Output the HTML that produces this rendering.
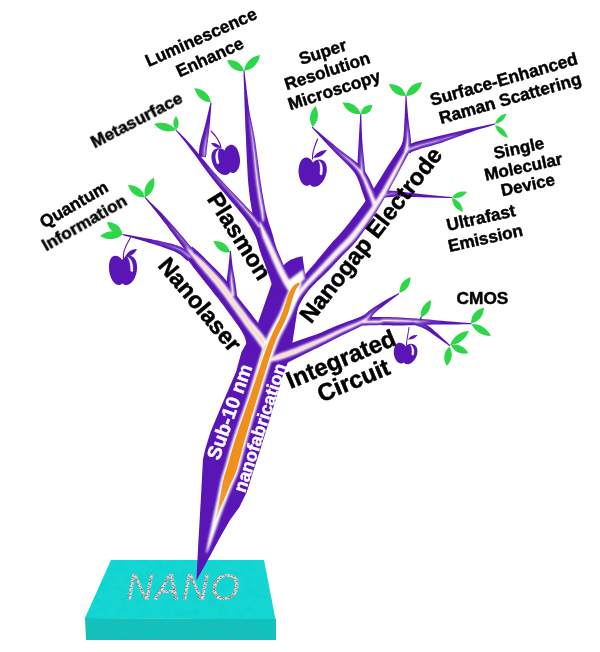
<!DOCTYPE html>
<html><head><meta charset="utf-8"><title>Nano tree</title>
<style>html,body{margin:0;padding:0;background:#fff}svg{display:block}</style></head>
<body>
<svg width="600" height="652" viewBox="0 0 600 652">
<defs>
<filter id="b1" x="-20%" y="-20%" width="140%" height="140%"><feGaussianBlur stdDeviation="1.0"/></filter>
<filter id="b2" x="-20%" y="-20%" width="140%" height="140%"><feGaussianBlur stdDeviation="0.5"/></filter>
<filter id="b3" x="-20%" y="-20%" width="140%" height="140%"><feGaussianBlur stdDeviation="0.75"/></filter>
<filter id="noise" x="0" y="0" width="100%" height="100%"><feTurbulence type="fractalNoise" baseFrequency="0.11" numOctaves="3" seed="7"/><feColorMatrix type="matrix" values="0 0 0 0 0  0 0 0 0 0.62  0 0 0 0 0.62  1.6 0 0 0 -0.62"/><feComposite in2="SourceGraphic" operator="in"/></filter>
<linearGradient id="og" gradientUnits="userSpaceOnUse" x1="230" y1="476" x2="215" y2="521"><stop offset="0" stop-color="#f0901e"/><stop offset="0.6" stop-color="#f29a3a"/><stop offset="1" stop-color="#fbe3cf"/></linearGradient>
<pattern id="spk" width="8" height="8" patternUnits="userSpaceOnUse"><rect x="0" y="0" width="1" height="1" fill="#c6c8c8"/><rect x="0" y="1" width="1" height="1" fill="#d6d8d8"/><rect x="0" y="2" width="1" height="1" fill="#9c9e9e"/><rect x="0" y="3" width="1" height="1" fill="#a8aaaa"/><rect x="0" y="4" width="1" height="1" fill="#787a7a"/><rect x="0" y="5" width="1" height="1" fill="#b4b6b6"/><rect x="0" y="6" width="1" height="1" fill="#9c9e9e"/><rect x="0" y="7" width="1" height="1" fill="#9c9e9e"/><rect x="1" y="0" width="1" height="1" fill="#8a8c8c"/><rect x="1" y="1" width="1" height="1" fill="#a8aaaa"/><rect x="1" y="2" width="1" height="1" fill="#d6d8d8"/><rect x="1" y="3" width="1" height="1" fill="#8a8c8c"/><rect x="1" y="4" width="1" height="1" fill="#c6c8c8"/><rect x="1" y="5" width="1" height="1" fill="#e4e6e6"/><rect x="1" y="6" width="1" height="1" fill="#d6d8d8"/><rect x="1" y="7" width="1" height="1" fill="#b4b6b6"/><rect x="2" y="0" width="1" height="1" fill="#9c9e9e"/><rect x="2" y="1" width="1" height="1" fill="#d6d8d8"/><rect x="2" y="2" width="1" height="1" fill="#c6c8c8"/><rect x="2" y="3" width="1" height="1" fill="#8a8c8c"/><rect x="2" y="4" width="1" height="1" fill="#d6d8d8"/><rect x="2" y="5" width="1" height="1" fill="#d6d8d8"/><rect x="2" y="6" width="1" height="1" fill="#c6c8c8"/><rect x="2" y="7" width="1" height="1" fill="#b4b6b6"/><rect x="3" y="0" width="1" height="1" fill="#d6d8d8"/><rect x="3" y="1" width="1" height="1" fill="#d6d8d8"/><rect x="3" y="2" width="1" height="1" fill="#e4e6e6"/><rect x="3" y="3" width="1" height="1" fill="#9c9e9e"/><rect x="3" y="4" width="1" height="1" fill="#e4e6e6"/><rect x="3" y="5" width="1" height="1" fill="#a8aaaa"/><rect x="3" y="6" width="1" height="1" fill="#c6c8c8"/><rect x="3" y="7" width="1" height="1" fill="#b4b6b6"/><rect x="4" y="0" width="1" height="1" fill="#c6c8c8"/><rect x="4" y="1" width="1" height="1" fill="#787a7a"/><rect x="4" y="2" width="1" height="1" fill="#d6d8d8"/><rect x="4" y="3" width="1" height="1" fill="#9c9e9e"/><rect x="4" y="4" width="1" height="1" fill="#d6d8d8"/><rect x="4" y="5" width="1" height="1" fill="#8a8c8c"/><rect x="4" y="6" width="1" height="1" fill="#d6d8d8"/><rect x="4" y="7" width="1" height="1" fill="#d6d8d8"/><rect x="5" y="0" width="1" height="1" fill="#c6c8c8"/><rect x="5" y="1" width="1" height="1" fill="#a8aaaa"/><rect x="5" y="2" width="1" height="1" fill="#a8aaaa"/><rect x="5" y="3" width="1" height="1" fill="#d6d8d8"/><rect x="5" y="4" width="1" height="1" fill="#a8aaaa"/><rect x="5" y="5" width="1" height="1" fill="#787a7a"/><rect x="5" y="6" width="1" height="1" fill="#b4b6b6"/><rect x="5" y="7" width="1" height="1" fill="#c6c8c8"/><rect x="6" y="0" width="1" height="1" fill="#d6d8d8"/><rect x="6" y="1" width="1" height="1" fill="#d6d8d8"/><rect x="6" y="2" width="1" height="1" fill="#8a8c8c"/><rect x="6" y="3" width="1" height="1" fill="#9c9e9e"/><rect x="6" y="4" width="1" height="1" fill="#8a8c8c"/><rect x="6" y="5" width="1" height="1" fill="#787a7a"/><rect x="6" y="6" width="1" height="1" fill="#d6d8d8"/><rect x="6" y="7" width="1" height="1" fill="#787a7a"/><rect x="7" y="0" width="1" height="1" fill="#e4e6e6"/><rect x="7" y="1" width="1" height="1" fill="#b4b6b6"/><rect x="7" y="2" width="1" height="1" fill="#c6c8c8"/><rect x="7" y="3" width="1" height="1" fill="#9c9e9e"/><rect x="7" y="4" width="1" height="1" fill="#a8aaaa"/><rect x="7" y="5" width="1" height="1" fill="#c6c8c8"/><rect x="7" y="6" width="1" height="1" fill="#787a7a"/><rect x="7" y="7" width="1" height="1" fill="#d6d8d8"/></pattern>
</defs>
<rect width="600" height="652" fill="#fff"/>
<polygon points="111,560 264,560 275.5,619.5 85,618" fill="#16d6d2"/>
<polygon points="85,618 276,619 276,640 86,640" fill="#17bfb9"/>
<polygon points="111,560 264,560 275.5,619.5 276,640 86,640 85,618" fill="#fff" filter="url(#noise)" opacity="0.55"/>
<text x="126" y="600" font-family="'Liberation Sans',sans-serif" font-style="italic" font-size="37.3" letter-spacing="1.8" fill="url(#spk)">NANO</text>
<polygon points="196.4,580.5 198.2,545.0 200.8,500.0 203.0,459.0 205.3,449.0 210.5,432.0 223.5,401.0 236.0,372.0 241.5,352.0 258.0,323.0 271.3,284.7 283.0,266.0 293.0,260.5 304.8,273.5 299.0,300.0 292.5,342.0 288.0,362.0 283.0,375.0 278.0,392.0 269.5,420.0 259.5,452.0 253.0,472.0 246.8,492.0 239.5,507.0 230.0,520.0 220.0,537.5 210.0,556.0" fill="#5915b6" />
<path d="M282,267 C287,260.5 295,257.3 302.5,256.2 L305,274 L290,286 Z" fill="#5915b6"/>
<polygon points="243.5,71.0 243.6,75.4 243.8,81.5 244.1,88.7 244.3,96.3 244.5,103.7 244.8,110.2 245.0,115.7 245.2,120.5 245.3,125.2 245.5,129.8 245.8,134.8 246.0,140.5 246.3,147.0 246.6,154.3 247.0,162.0 247.4,169.7 247.8,177.1 248.3,183.7 248.9,189.6 249.5,195.1 250.2,200.2 251.0,204.9 251.7,209.3 252.4,213.3 253.1,217.1 253.9,220.5 254.6,223.6 255.3,226.2 255.8,228.3 256.2,229.8 269.8,226.2 269.3,224.5 268.7,222.5 268.0,220.0 267.2,217.2 266.4,214.1 265.6,210.7 264.9,206.9 264.1,202.7 263.3,198.1 262.4,193.2 261.6,188.0 260.7,182.3 259.8,175.9 258.9,168.7 257.9,161.1 256.9,153.4 255.9,146.1 255.0,139.5 254.0,133.9 253.0,128.9 252.0,124.3 251.1,119.8 250.1,115.1 249.2,109.8 248.3,103.4 247.4,96.1 246.5,88.5 245.7,81.4 245.0,75.3 244.5,71.0" fill="#5915b6"/>
<polygon points="175.6,130.3 177.0,132.0 178.7,134.1 180.9,136.7 183.3,139.7 186.0,143.1 188.9,146.9 192.2,151.3 195.9,156.3 199.8,161.8 203.9,167.4 208.0,172.9 211.9,178.1 215.8,182.9 219.7,187.7 223.6,192.3 227.4,196.7 230.9,200.9 234.2,204.8 237.1,208.3 239.7,211.5 242.1,214.4 244.2,217.1 246.2,219.8 248.1,222.6 250.0,225.7 251.9,229.2 253.7,232.7 255.4,236.0 256.8,238.9 257.8,241.0 268.2,235.0 266.9,233.1 265.2,230.5 263.1,227.3 260.8,223.8 258.3,220.3 255.9,217.0 253.4,214.1 251.0,211.4 248.4,208.7 245.8,206.0 243.0,203.1 239.8,199.8 236.4,196.1 232.5,192.1 228.5,187.9 224.4,183.5 220.2,179.1 216.1,174.5 211.9,169.7 207.5,164.6 203.1,159.3 198.7,154.1 194.7,149.3 191.1,145.1 187.9,141.5 184.9,138.3 182.1,135.5 179.8,133.1 177.8,131.2 176.4,129.7" fill="#5915b6"/>
<polygon points="210.5,102.4 209.9,104.9 209.2,108.2 208.2,112.2 207.2,116.5 206.2,120.8 205.3,124.6 204.3,128.2 203.3,131.9 202.3,135.6 201.3,139.1 200.5,142.5 199.8,145.4 199.4,148.1 199.1,150.5 199.0,152.6 199.0,154.3 199.0,155.7 199.0,156.8 206.0,157.2 206.1,156.1 206.3,154.7 206.5,153.1 206.7,151.2 206.9,149.0 207.2,146.6 207.5,143.7 208.0,140.4 208.4,136.8 208.9,133.0 209.3,129.2 209.7,125.4 210.1,121.4 210.4,117.0 210.8,112.6 211.1,108.5 211.3,105.1 211.5,102.6" fill="#5915b6"/>
<polygon points="253.9,226.3 253.9,226.9 254.0,227.8 254.1,228.8 254.2,230.0 254.4,231.2 254.6,232.5 255.0,233.9 255.4,235.5 255.9,237.1 256.5,238.9 257.0,240.6 257.5,242.3 257.9,243.6 258.2,244.9 258.6,246.3 259.1,248.1 259.7,250.2 260.6,252.8 261.7,256.0 263.1,259.6 264.6,263.5 266.1,267.5 267.5,271.4 268.8,275.1 270.0,278.7 271.2,282.5 272.4,286.4 273.5,289.9 274.4,292.9 275.0,295.1 293.0,288.9 292.2,286.8 291.0,283.9 289.7,280.4 288.2,276.6 286.7,272.7 285.2,268.9 283.7,265.2 282.0,261.2 280.3,257.2 278.7,253.4 277.3,250.0 276.2,247.2 275.5,245.1 275.0,243.5 274.6,242.2 274.3,240.9 273.9,239.4 273.5,237.7 273.0,235.9 272.5,234.1 271.9,232.4 271.4,230.6 270.9,229.0 270.4,227.5 269.8,226.2 269.2,225.0 268.5,223.9 268.0,223.0 267.5,222.3 267.1,221.7" fill="#5915b6"/>
<polygon points="144.6,197.8 146.2,199.7 148.3,202.3 150.8,205.3 153.5,208.7 156.2,212.0 158.7,215.2 161.1,218.2 163.5,221.4 166.0,224.6 168.4,227.8 170.7,230.9 172.9,233.7 174.9,236.4 176.8,239.0 178.7,241.6 180.4,243.9 182.0,246.1 183.5,248.0 184.8,249.8 186.0,251.3 187.1,252.6 188.0,253.7 188.8,254.6 189.4,255.3 194.6,250.7 194.0,250.0 193.2,249.2 192.3,248.1 191.1,246.9 189.9,245.5 188.5,244.0 187.0,242.1 185.3,240.1 183.5,237.8 181.5,235.4 179.4,232.9 177.1,230.3 174.8,227.6 172.2,224.7 169.5,221.7 166.8,218.7 164.0,215.7 161.3,212.8 158.5,209.9 155.4,206.9 152.3,203.9 149.5,201.2 147.1,198.8 145.4,197.2" fill="#5915b6"/>
<polygon points="122.4,235.0 125.4,235.9 129.7,237.1 134.7,238.6 140.0,240.1 145.1,241.6 149.5,242.9 153.3,244.1 156.9,245.3 160.4,246.3 163.5,247.4 166.4,248.4 169.1,249.4 171.4,250.2 173.3,251.0 175.0,251.7 176.4,252.4 177.8,253.2 179.2,254.0 180.7,255.1 182.2,256.3 183.8,257.7 185.2,259.0 186.5,260.2 187.5,261.1 192.5,254.9 191.6,254.2 190.2,253.1 188.6,251.9 186.7,250.5 184.8,249.2 182.8,248.0 181.0,247.1 179.2,246.3 177.4,245.6 175.5,245.0 173.4,244.3 170.9,243.6 168.1,242.9 165.0,242.2 161.7,241.4 158.2,240.6 154.4,239.9 150.5,239.1 145.9,238.2 140.7,237.2 135.3,236.2 130.1,235.3 125.7,234.6 122.6,234.0" fill="#5915b6"/>
<polygon points="183.8,254.4 184.4,255.2 185.1,256.2 186.0,257.5 187.0,258.9 188.0,260.2 189.0,261.5 189.8,262.6 190.5,263.6 191.3,264.6 192.2,265.8 193.4,267.4 195.1,269.5 197.4,272.5 200.2,276.0 203.3,280.0 206.5,284.0 209.5,287.8 212.1,291.1 214.2,293.8 216.0,296.0 217.8,298.1 219.6,300.5 221.7,303.2 224.2,306.6 227.4,310.9 231.0,315.8 234.7,320.9 238.3,326.1 241.4,330.8 243.6,334.7 244.9,337.8 245.8,340.8 246.3,343.6 246.7,346.3 247.0,348.9 247.4,351.1 268.6,344.9 267.9,343.4 267.1,341.1 265.9,337.9 264.3,334.1 262.2,329.8 259.6,325.3 256.4,320.7 252.6,315.7 248.5,310.5 244.4,305.5 240.7,300.8 237.6,296.8 235.3,293.5 233.4,290.7 231.8,288.1 230.2,285.6 228.3,282.9 225.9,279.9 222.9,276.4 219.4,272.8 215.7,269.0 212.1,265.5 208.9,262.3 206.3,259.7 204.4,257.7 203.0,256.3 201.9,255.2 201.0,254.3 200.1,253.5 199.0,252.5 197.8,251.3 196.4,250.2 195.1,249.1 193.9,248.0 192.9,247.2 192.2,246.6" fill="#5915b6"/>
<polygon points="230.0,251.0 229.8,252.6 229.6,254.8 229.4,257.5 229.1,260.4 228.8,263.3 228.5,266.0 228.2,268.7 227.8,271.4 227.5,274.1 227.1,276.9 226.9,279.6 226.8,282.3 226.8,285.0 227.0,287.8 227.3,290.5 227.6,293.0 227.9,295.0 228.0,296.5 237.0,295.5 236.8,294.0 236.6,291.9 236.3,289.5 235.9,286.9 235.6,284.2 235.2,281.7 234.8,279.2 234.4,276.6 233.9,274.0 233.4,271.3 232.9,268.6 232.5,266.0 232.2,263.3 231.9,260.4 231.6,257.5 231.3,254.9 231.1,252.6 231.0,251.0" fill="#5915b6"/>
<polygon points="311.7,127.4 314.0,129.9 317.3,133.5 321.1,137.7 325.3,142.2 329.4,146.7 333.3,150.8 337.1,154.7 341.1,158.5 345.0,162.3 348.7,166.0 351.9,169.5 354.5,172.8 356.4,176.0 357.9,179.2 359.2,182.5 360.3,185.8 361.3,189.1 362.5,192.3 363.6,195.4 364.7,198.4 365.7,201.4 366.5,204.1 367.3,206.4 367.9,208.2 380.1,203.8 379.5,202.2 378.6,199.9 377.6,197.1 376.4,194.0 375.0,190.8 373.5,187.7 372.1,184.7 370.6,181.6 368.9,178.1 366.9,174.5 364.5,170.8 361.5,167.2 357.9,163.6 353.9,160.3 349.6,156.9 345.2,153.7 340.9,150.4 336.7,147.2 332.4,143.6 327.7,139.7 323.0,135.7 318.7,132.0 315.0,128.9 312.3,126.6" fill="#5915b6"/>
<polygon points="360.3,114.0 360.1,116.8 359.9,120.8 359.6,125.4 359.3,130.4 359.0,135.4 358.8,140.0 358.5,144.4 358.2,149.0 358.0,153.6 357.7,157.9 357.6,161.8 357.5,165.2 357.6,167.9 357.7,170.2 357.9,172.0 358.2,173.5 358.4,174.6 358.5,175.4 365.5,174.6 365.4,173.6 365.3,172.5 365.1,171.1 364.9,169.5 364.7,167.4 364.5,164.8 364.2,161.6 363.8,157.7 363.4,153.4 362.9,148.9 362.6,144.4 362.2,140.0 362.0,135.4 361.8,130.5 361.6,125.5 361.5,120.8 361.4,116.9 361.3,114.0" fill="#5915b6"/>
<polygon points="405.5,96.0 405.4,98.7 405.3,102.4 405.1,106.8 404.9,111.4 404.7,116.0 404.5,120.1 404.3,123.7 404.1,127.4 403.9,130.9 403.7,134.2 403.4,137.2 403.0,139.8 402.5,142.1 401.8,144.3 401.0,146.2 400.3,148.0 399.6,149.6 399.1,150.8 410.9,153.2 410.9,152.0 411.0,150.4 411.1,148.3 411.1,145.8 411.1,143.1 411.0,140.2 410.7,137.2 410.3,134.0 409.9,130.6 409.4,127.2 408.9,123.6 408.5,119.9 408.1,115.9 407.7,111.4 407.3,106.7 407.0,102.4 406.7,98.6 406.5,96.0" fill="#5915b6"/>
<polygon points="402.7,143.5 401.1,146.0 398.8,149.4 396.2,153.4 393.2,157.9 390.2,162.6 387.1,167.3 384.0,172.2 380.8,177.4 377.5,182.8 374.0,188.3 370.6,193.6 367.1,198.8 363.4,203.9 359.5,209.2 355.6,214.5 351.7,219.5 348.1,224.2 344.8,228.2 342.1,231.6 339.7,234.3 337.5,236.7 335.3,239.1 332.9,241.6 330.4,244.5 327.8,247.5 325.2,250.7 322.6,253.8 320.0,256.9 317.6,259.8 315.5,262.4 313.5,264.7 311.8,266.7 310.1,268.6 308.5,270.5 306.8,272.4 305.0,274.3 303.3,276.2 301.5,278.0 299.5,280.0 297.6,282.1 295.6,284.5 293.7,287.1 292.0,289.9 290.3,292.8 288.8,295.9 287.3,299.1 286.0,302.5 284.8,305.9 283.9,309.5 283.1,313.2 282.4,316.9 281.9,320.5 281.4,323.9 281.0,327.3 280.7,330.7 280.5,334.2 280.3,337.5 280.2,340.5 280.1,343.0 280.0,344.8 292.0,345.2 292.1,343.4 292.1,340.9 292.2,338.0 292.4,334.9 292.6,331.7 293.0,328.7 293.4,325.7 294.0,322.4 294.6,319.1 295.4,315.9 296.2,312.9 297.2,310.1 298.3,307.4 299.5,304.7 300.9,302.1 302.4,299.5 303.9,297.1 305.3,294.9 306.7,292.9 308.1,291.1 309.6,289.3 311.3,287.5 313.1,285.6 315.0,283.7 316.7,281.8 318.5,280.2 320.3,278.6 322.2,276.8 324.3,274.8 326.5,272.6 329.0,270.0 331.7,267.2 334.4,264.3 337.2,261.3 340.0,258.3 342.6,255.5 345.0,253.1 347.3,250.8 349.7,248.4 352.3,245.8 355.1,242.6 358.2,238.8 361.5,234.3 365.0,229.2 368.7,223.8 372.4,218.1 376.0,212.4 379.5,206.8 382.8,201.2 386.1,195.5 389.3,189.7 392.3,184.1 395.2,178.7 397.9,173.7 400.5,168.8 403.2,163.8 405.7,159.1 408.0,154.8 409.9,151.2 411.3,148.5" fill="#5915b6"/>
<polygon points="494.9,123.5 492.2,124.1 488.5,124.8 484.1,125.7 479.3,126.7 474.4,127.8 469.5,128.8 464.6,130.0 459.3,131.2 453.9,132.5 448.6,133.8 443.5,135.0 439.0,136.1 435.0,137.1 431.4,137.9 427.9,138.7 424.7,139.5 421.7,140.2 418.9,141.0 416.2,141.8 413.6,142.6 411.4,143.4 409.4,144.2 407.8,144.8 406.6,145.2 409.4,152.8 410.6,152.3 412.2,151.7 414.1,151.0 416.3,150.2 418.6,149.4 421.1,148.6 423.8,147.8 426.7,147.0 429.8,146.2 433.2,145.2 437.0,144.1 441.0,142.9 445.4,141.3 450.3,139.5 455.5,137.6 460.7,135.7 465.7,133.8 470.5,132.2 475.1,130.6 479.9,129.1 484.6,127.7 488.9,126.4 492.5,125.3 495.1,124.5" fill="#5915b6"/>
<polygon points="452.0,197.0 449.1,196.7 445.0,196.4 440.1,195.9 434.9,195.5 429.8,195.0 425.1,194.5 420.8,194.0 416.5,193.5 412.2,192.9 408.1,192.4 404.0,191.9 400.1,191.5 396.2,191.1 392.2,190.8 388.4,190.6 384.9,190.3 382.1,190.1 380.0,190.0 380.0,198.0 382.2,197.8 385.1,197.5 388.5,197.2 392.2,196.9 396.1,196.6 399.9,196.5 403.7,196.5 407.7,196.7 411.9,196.9 416.2,197.1 420.5,197.3 424.9,197.5 429.6,197.6 434.8,197.7 440.0,197.8 444.9,197.9 449.0,198.0 452.0,198.0" fill="#5915b6"/>
<polygon points="398.7,293.1 397.1,293.9 394.9,295.1 392.2,296.5 389.4,298.0 386.6,299.6 384.0,301.1 381.6,302.5 379.2,304.0 376.8,305.5 374.5,307.0 372.3,308.5 370.2,309.9 368.4,311.3 366.9,312.7 365.7,313.7 364.7,314.5 363.4,315.3 361.4,316.3 358.5,317.6 354.8,319.0 350.6,320.5 346.2,322.1 341.8,323.7 337.8,325.3 334.2,326.8 330.9,328.2 327.7,329.6 324.6,331.0 321.2,332.4 317.5,333.9 313.2,335.4 308.5,337.1 303.5,338.8 298.5,340.5 293.6,342.2 289.1,343.9 284.9,345.6 280.7,347.4 276.7,349.1 273.1,350.7 270.2,352.0 268.0,352.9 276.0,369.1 278.1,367.9 280.9,366.4 284.3,364.6 288.0,362.6 291.8,360.5 295.7,358.5 299.7,356.5 304.2,354.2 308.9,351.9 313.7,349.6 318.3,347.4 322.5,345.3 326.2,343.5 329.6,341.7 332.8,340.1 335.8,338.6 338.9,337.0 342.2,335.3 346.0,333.5 350.1,331.6 354.4,329.6 358.5,327.6 362.4,325.6 365.6,323.7 368.1,321.8 369.9,319.9 371.1,318.2 371.9,316.7 372.6,315.5 373.8,314.1 375.5,312.5 377.4,310.8 379.5,309.1 381.6,307.4 383.8,305.7 386.0,303.9 388.3,302.2 390.8,300.2 393.4,298.3 395.8,296.5 397.8,295.0 399.3,293.9" fill="#5915b6"/>
<polygon points="471.5,323.2 469.2,323.0 466.1,322.8 462.3,322.5 458.3,322.2 454.1,321.8 450.1,321.5 446.1,321.2 442.0,320.8 437.8,320.4 433.6,320.0 429.3,319.6 425.1,319.3 420.8,318.9 416.5,318.6 412.2,318.3 408.0,318.0 403.9,317.7 400.1,317.5 396.5,317.3 393.0,317.2 389.7,317.0 386.4,316.9 383.2,316.9 380.0,316.9 376.6,316.9 373.1,317.0 369.6,317.1 366.4,317.3 363.8,317.4 361.9,317.5 362.1,325.5 364.1,325.5 366.7,325.4 369.9,325.3 373.3,325.2 376.7,325.2 380.0,325.1 383.1,325.2 386.2,325.3 389.4,325.3 392.8,325.4 396.2,325.5 399.9,325.5 403.8,325.4 407.9,325.3 412.1,325.2 416.4,325.0 420.7,324.9 424.9,324.7 429.1,324.7 433.4,324.6 437.6,324.6 441.8,324.6 446.0,324.5 449.9,324.5 454.0,324.4 458.2,324.4 462.3,324.3 466.0,324.3 469.2,324.2 471.5,324.2" fill="#5915b6"/>
<polygon points="420.5,316.9 420.4,317.1 420.3,317.4 420.2,317.8 420.0,318.1 419.8,318.5 419.7,318.9 419.6,319.2 419.4,319.6 419.3,320.0 419.2,320.4 419.1,320.6 419.0,320.9 422.0,321.1 422.0,320.9 421.9,320.6 421.9,320.2 421.8,319.9 421.7,319.5 421.7,319.1 421.6,318.8 421.6,318.4 421.6,318.0 421.5,317.6 421.5,317.3 421.5,317.1" fill="#5915b6"/>
<polygon points="450.3,345.4 449.1,344.3 447.4,342.6 445.4,340.7 443.2,338.7 441.0,336.7 438.9,334.8 437.0,333.1 435.1,331.4 433.2,329.7 431.2,328.0 429.2,326.5 427.1,325.0 424.9,323.8 422.5,322.6 420.2,321.6 418.0,320.7 416.2,320.0 415.0,319.4 413.0,324.6 414.4,325.0 416.2,325.6 418.3,326.3 420.6,327.1 422.8,328.0 424.9,329.0 426.8,330.0 428.8,331.3 430.8,332.7 432.9,334.2 435.0,335.7 437.1,337.2 439.3,338.7 441.7,340.5 444.1,342.2 446.4,343.8 448.3,345.2 449.7,346.2" fill="#5915b6"/>
<g filter="url(#b1)">
<polygon points="244.2,71.0 244.6,75.3 245.2,81.4 245.9,88.6 246.6,96.2 247.3,103.5 248.0,109.9 248.6,115.3 249.3,120.1 249.9,124.6 250.6,129.2 251.3,134.2 251.9,139.9 252.6,146.5 253.4,153.8 254.1,161.4 254.8,169.1 255.6,176.3 256.3,182.8 257.1,188.6 257.9,194.1 258.8,199.3 259.6,203.9 260.3,208.1 260.9,211.6 261.3,214.5 261.7,216.6 261.9,218.3 262.1,219.6 262.3,220.7 262.4,221.6 263.8,221.5 263.8,220.6 263.9,219.5 264.0,218.2 264.0,216.4 263.8,214.2 263.5,211.3 263.0,207.6 262.2,203.5 261.4,198.8 260.5,193.7 259.5,188.3 258.7,182.5 257.8,176.1 256.9,168.9 256.0,161.2 255.1,153.6 254.2,146.3 253.3,139.7 252.5,134.0 251.6,129.1 250.7,124.5 249.8,120.0 249.0,115.2 248.1,109.9 247.3,103.5 246.6,96.2 245.9,88.6 245.2,81.4 244.6,75.3 244.2,71.0" fill="#fdf6fb"/>
<polygon points="176.1,129.9 177.6,131.4 179.5,133.4 181.8,135.9 184.4,138.7 187.3,142.0 190.4,145.6 193.9,149.9 197.9,154.8 202.1,160.0 206.3,165.5 210.6,170.8 214.6,175.8 218.6,180.4 222.7,185.0 226.7,189.5 230.6,193.8 234.3,197.9 237.7,201.7 240.7,205.2 243.6,208.5 246.3,211.6 248.7,214.4 250.8,216.9 252.7,219.2 254.3,221.2 255.6,223.0 256.7,224.4 257.5,225.7 258.2,226.7 258.7,227.5 259.9,226.7 259.4,225.9 258.9,224.8 258.1,223.5 257.1,221.9 255.8,220.1 254.2,218.0 252.3,215.7 250.0,213.2 247.5,210.5 244.8,207.5 241.8,204.3 238.6,200.9 235.2,197.2 231.4,193.1 227.4,188.9 223.3,184.5 219.1,180.0 215.0,175.4 210.9,170.6 206.5,165.4 202.1,160.0 197.9,154.8 193.9,149.9 190.4,145.6 187.3,142.0 184.4,138.7 181.8,135.9 179.5,133.4 177.6,131.4 176.1,129.9" fill="#fdf6fb"/>
<polygon points="211.2,102.5 210.9,105.0 210.5,108.4 210.0,112.5 209.5,116.9 208.9,121.2 208.3,125.1 207.6,128.9 206.9,132.6 206.2,136.4 205.4,140.0 204.8,143.3 204.3,146.1 204.0,148.6 203.7,150.9 203.6,152.9 203.5,154.6 203.4,156.0 203.3,157.0 204.5,157.1 204.6,156.1 204.7,154.6 204.9,153.0 205.1,151.0 205.3,148.8 205.6,146.3 206.0,143.4 206.5,140.1 207.0,136.5 207.5,132.8 208.0,128.9 208.5,125.2 208.9,121.2 209.5,116.9 210.0,112.5 210.5,108.4 210.9,105.0 211.2,102.5" fill="#fdf6fb"/>
<polygon points="259.3,222.0 259.5,223.5 259.9,225.7 260.4,228.2 260.9,231.0 261.6,233.8 262.3,236.4 263.1,238.8 264.1,241.1 265.1,243.5 266.2,246.0 267.4,248.6 268.6,251.4 270.0,254.5 271.4,257.9 272.9,261.4 274.5,264.9 276.0,268.3 277.5,271.5 279.0,274.5 280.6,277.6 282.1,280.5 283.5,283.2 284.8,285.6 286.0,287.5 287.0,289.0 287.9,290.1 288.7,290.9 289.3,291.4 289.9,291.9 290.4,292.3 294.1,289.4 293.8,288.8 293.5,288.2 293.2,287.5 292.9,286.7 292.4,285.7 291.7,284.2 290.7,282.3 289.3,280.0 287.9,277.3 286.3,274.5 284.8,271.6 283.2,268.7 281.7,265.6 280.2,262.3 278.5,258.8 277.0,255.4 275.4,252.1 274.0,249.0 272.7,246.2 271.5,243.6 270.3,241.1 269.3,238.8 268.2,236.6 267.1,234.4 265.9,232.1 264.6,229.7 263.2,227.2 262.0,225.0 260.9,223.1 260.1,221.7" fill="#fdf6fb"/>
<polygon points="145.1,197.4 146.8,199.2 149.1,201.6 151.8,204.4 154.7,207.5 157.6,210.7 160.4,213.7 163.0,216.6 165.6,219.7 168.2,222.8 170.7,225.9 173.1,228.9 175.4,231.7 177.5,234.4 179.5,236.9 181.4,239.4 183.2,241.7 184.9,243.8 186.3,245.7 187.7,247.4 188.9,248.8 190.0,250.1 190.9,251.2 191.7,252.0 192.3,252.7 193.2,252.0 192.5,251.3 191.8,250.4 190.8,249.4 189.7,248.2 188.4,246.7 187.1,245.1 185.6,243.3 183.9,241.2 182.0,238.9 180.1,236.5 178.0,233.9 175.8,231.3 173.5,228.6 171.0,225.7 168.3,222.7 165.6,219.6 163.0,216.6 160.4,213.7 157.6,210.7 154.7,207.5 151.8,204.4 149.1,201.6 146.8,199.2 145.1,197.4" fill="#fdf6fb"/>
<polygon points="122.5,234.4 125.6,235.1 129.9,236.1 135.0,237.2 140.4,238.4 145.6,239.6 150.1,240.7 153.9,241.7 157.6,242.7 161.1,243.7 164.3,244.6 167.3,245.5 170.0,246.4 172.4,247.2 174.4,247.9 176.2,248.6 177.9,249.3 179.4,250.0 181.0,250.9 182.8,252.1 184.5,253.4 186.2,254.8 187.7,256.1 189.0,257.2 190.0,258.0 190.8,257.0 189.9,256.2 188.5,255.1 186.9,253.9 185.2,252.5 183.3,251.2 181.5,250.1 179.9,249.2 178.2,248.5 176.5,247.8 174.7,247.1 172.7,246.5 170.2,245.7 167.5,244.9 164.5,244.1 161.2,243.3 157.7,242.5 154.0,241.6 150.1,240.7 145.6,239.6 140.4,238.4 135.0,237.2 129.9,236.1 125.6,235.1 122.5,234.4" fill="#fdf6fb"/>
<polygon points="185.2,246.9 185.5,247.3 186.0,248.0 186.5,248.7 187.1,249.5 187.7,250.4 188.3,251.2 188.9,251.9 189.3,252.6 189.8,253.4 190.4,254.1 191.0,255.1 191.9,256.2 192.8,257.4 193.7,258.6 194.8,260.0 196.0,261.6 197.5,263.5 199.4,265.8 201.9,268.7 204.8,272.2 208.1,276.0 211.4,279.9 214.5,283.6 217.2,287.0 219.5,289.8 221.4,292.4 223.3,294.8 225.1,297.2 227.0,299.9 229.2,302.9 231.7,306.4 234.4,310.2 237.2,314.3 240.1,318.3 242.7,322.1 245.1,325.4 247.3,328.4 249.3,331.1 251.2,333.5 252.9,335.7 254.4,337.7 255.8,339.6 257.1,341.4 258.3,343.0 259.3,344.5 260.3,345.8 261.1,347.0 261.9,348.0 262.6,348.8 263.2,349.5 263.8,350.2 264.4,350.9 264.8,351.5 265.2,352.0 268.4,351.4 268.5,350.9 268.8,350.2 269.0,349.2 269.2,347.8 269.1,346.3 268.7,344.6 268.0,343.1 267.3,341.5 266.4,339.9 265.4,338.2 264.2,336.4 262.7,334.5 261.1,332.4 259.4,330.4 257.5,328.3 255.5,326.0 253.4,323.6 251.2,320.9 248.7,317.7 245.9,314.0 243.0,310.1 240.1,306.2 237.3,302.4 234.7,298.9 232.6,295.9 230.8,293.2 229.2,290.6 227.4,288.0 225.4,285.2 223.0,282.2 220.1,278.9 216.7,275.2 213.2,271.4 209.7,267.8 206.5,264.5 203.8,261.8 201.6,259.7 199.7,258.0 198.2,256.7 196.8,255.6 195.6,254.6 194.4,253.7 193.3,252.9 192.4,252.2 191.6,251.6 190.9,251.1 190.2,250.6 189.5,250.1 188.7,249.5 187.9,248.8 187.1,248.1 186.4,247.5 185.8,247.0 185.4,246.7" fill="#fdf6fb"/>
<polygon points="230.6,251.0 230.6,252.6 230.6,254.9 230.6,257.5 230.7,260.4 230.7,263.3 230.8,266.0 230.8,268.6 230.7,271.3 230.6,274.1 230.6,276.8 230.6,279.5 230.6,282.0 230.8,284.7 231.0,287.4 231.3,290.1 231.6,292.5 231.9,294.6 232.0,296.1 234.4,295.8 234.2,294.3 234.0,292.2 233.7,289.8 233.4,287.1 233.0,284.4 232.7,281.9 232.4,279.3 232.1,276.7 231.7,274.0 231.4,271.3 231.1,268.6 230.8,266.0 230.7,263.3 230.7,260.4 230.6,257.5 230.6,254.9 230.6,252.6 230.6,251.0" fill="#fdf6fb"/>
<polygon points="312.1,126.9 314.6,129.3 318.1,132.6 322.2,136.5 326.7,140.7 331.1,144.9 335.1,148.9 339.0,152.5 343.1,156.2 347.2,159.7 351.1,163.3 354.7,166.8 357.7,170.3 360.0,173.7 361.9,177.2 363.4,180.6 364.7,184.0 365.9,187.2 367.2,190.4 368.4,193.5 369.6,196.6 370.7,199.6 371.6,202.4 372.4,204.7 373.0,206.4 377.0,204.9 376.3,203.3 375.5,201.0 374.5,198.2 373.3,195.2 372.0,192.0 370.6,188.9 369.2,185.9 367.8,182.7 366.3,179.3 364.4,175.8 362.2,172.3 359.5,168.8 356.1,165.4 352.3,162.0 348.1,158.6 343.8,155.3 339.5,151.9 335.4,148.5 331.2,144.8 326.7,140.7 322.2,136.5 318.1,132.6 314.6,129.3 312.1,126.9" fill="#fdf6fb"/>
<polygon points="360.9,114.0 360.9,116.8 360.8,120.8 360.8,125.4 360.8,130.4 360.7,135.4 360.8,140.0 360.8,144.4 360.8,149.0 360.8,153.5 360.8,157.8 360.8,161.7 360.9,165.0 361.0,167.7 361.1,169.8 361.4,171.6 361.6,173.0 361.7,174.1 361.9,175.0 363.3,174.8 363.2,173.9 363.0,172.8 362.9,171.4 362.7,169.7 362.5,167.6 362.3,164.9 362.0,161.7 361.7,157.8 361.4,153.5 361.1,149.0 360.9,144.4 360.8,140.0 360.7,135.4 360.8,130.4 360.8,125.4 360.8,120.8 360.9,116.8 360.9,114.0" fill="#fdf6fb"/>
<polygon points="406.1,96.0 406.2,98.7 406.3,102.4 406.4,106.7 406.5,111.4 406.7,115.9 406.8,120.0 406.8,123.7 406.9,127.3 406.9,130.8 406.9,134.1 406.9,137.2 406.7,140.0 406.4,142.6 405.9,145.0 405.4,147.2 404.9,149.1 404.4,150.7 404.1,151.9 407.8,152.5 407.9,151.3 408.1,149.7 408.3,147.7 408.5,145.3 408.6,142.8 408.6,140.1 408.4,137.2 408.2,134.0 407.8,130.7 407.5,127.2 407.1,123.6 406.8,120.0 406.7,115.9 406.5,111.4 406.4,106.7 406.3,102.4 406.2,98.7 406.1,96.0" fill="#fdf6fb"/>
<polygon points="407.3,146.9 405.8,149.4 403.8,152.9 401.5,157.0 398.8,161.5 396.0,166.3 393.2,171.1 390.4,176.0 387.3,181.3 384.1,186.9 380.8,192.5 377.4,198.0 374.0,203.3 370.3,208.7 366.4,214.1 362.4,219.5 358.5,224.6 354.7,229.4 351.3,233.5 348.4,237.0 345.7,239.8 343.3,242.2 340.9,244.5 338.5,246.9 336.0,249.5 333.3,252.3 330.6,255.3 327.9,258.2 325.2,261.1 322.6,264.0 320.1,266.6 317.8,269.1 315.5,271.5 313.2,273.8 311.1,276.0 309.1,278.2 307.2,280.3 305.5,282.2 303.8,284.1 302.3,285.9 300.9,287.6 299.5,289.5 298.2,291.4 297.0,293.5 295.8,295.7 294.7,297.9 293.7,300.2 292.7,302.5 291.7,304.8 290.7,307.2 289.7,309.7 288.8,312.3 287.9,314.8 287.0,317.4 286.1,320.0 285.1,322.8 284.0,325.9 282.9,329.0 281.8,331.9 281.0,334.4 280.3,336.1 280.3,336.1 281.1,334.4 282.0,332.0 283.2,329.2 284.5,326.1 285.7,323.1 286.9,320.4 288.1,317.8 289.2,315.3 290.3,312.9 291.4,310.4 292.6,308.1 293.8,305.8 295.0,303.7 296.3,301.6 297.7,299.5 299.0,297.6 300.3,295.7 301.7,293.9 303.1,292.1 304.4,290.4 305.8,288.8 307.3,287.1 308.9,285.3 310.7,283.4 312.6,281.4 314.6,279.4 316.7,277.3 319.0,275.0 321.4,272.7 323.8,270.2 326.4,267.6 329.1,264.9 331.9,262.0 334.7,259.2 337.5,256.3 340.2,253.6 342.7,251.1 345.1,248.9 347.5,246.6 350.1,244.1 353.0,241.1 356.0,237.4 359.4,233.1 363.1,228.2 367.0,222.8 370.9,217.3 374.7,211.6 378.2,206.1 381.6,200.6 384.9,194.9 388.1,189.1 391.2,183.5 394.1,178.1 396.7,173.0 399.3,168.1 401.7,163.1 404.0,158.3 406.0,154.0 407.7,150.4 409.0,147.8" fill="#fdf6fb"/>
<polygon points="495.0,124.1 492.4,124.8 488.7,125.7 484.4,126.8 479.7,128.1 474.8,129.4 470.1,130.8 465.3,132.2 460.1,133.7 454.7,135.2 449.5,136.8 444.5,138.2 440.0,139.5 436.0,140.6 432.3,141.5 428.9,142.4 425.7,143.2 422.7,143.9 420.0,144.7 417.4,145.5 414.9,146.3 412.7,147.1 410.8,147.8 409.2,148.4 408.0,148.9 408.5,150.3 409.7,149.9 411.3,149.3 413.2,148.6 415.4,147.8 417.8,147.0 420.4,146.1 423.1,145.3 426.0,144.6 429.2,143.7 432.6,142.8 436.3,141.8 440.3,140.6 444.8,139.1 449.7,137.5 454.9,135.7 460.1,133.9 465.3,132.2 470.1,130.8 474.8,129.4 479.7,128.1 484.4,126.8 488.7,125.7 492.4,124.8 495.0,124.1" fill="#fdf6fb"/>
<polygon points="452.0,197.4 449.0,197.2 444.9,197.0 440.1,196.7 434.9,196.4 429.7,196.1 425.0,195.8 420.7,195.4 416.4,195.0 412.1,194.6 407.9,194.2 403.9,193.8 400.0,193.4 396.2,193.2 392.2,193.0 388.4,194.0 385.0,194.0 382.1,194.0 380.0,194.0 380.0,195.3 382.1,195.2 385.0,195.0 388.5,194.8 392.3,193.7 396.1,193.7 400.0,193.8 403.9,194.0 407.9,194.2 412.1,194.6 416.4,195.0 420.7,195.4 425.0,195.8 429.7,196.1 434.9,196.4 440.1,196.7 444.9,197.0 449.0,197.2 452.0,197.4" fill="#fdf6fb"/>
<polygon points="399.0,293.6 397.5,294.6 395.4,295.9 392.9,297.5 390.2,299.3 387.6,301.1 385.2,302.7 382.9,304.3 380.6,305.9 378.3,307.5 376.1,309.1 374.0,310.6 372.0,312.0 370.5,313.4 369.3,314.6 368.2,315.8 367.0,317.0 365.5,318.2 363.2,319.5 360.1,321.0 356.4,322.7 352.2,324.3 347.8,326.1 343.5,327.7 339.6,329.4 336.1,330.9 332.8,332.4 329.6,333.9 326.4,335.4 323.1,336.9 319.5,338.4 315.5,340.1 311.2,341.8 306.7,343.6 302.3,345.3 298.1,346.9 294.3,348.4 291.0,349.6 287.8,350.7 284.8,351.7 282.1,352.6 279.6,353.4 277.4,354.3 275.5,355.2 273.9,356.1 272.6,357.0 271.5,357.8 270.5,358.4 269.8,358.9 270.8,361.4 271.6,361.3 272.8,361.2 274.1,361.0 275.7,360.8 277.4,360.4 279.4,359.9 281.6,359.3 284.1,358.5 286.8,357.6 289.8,356.5 293.1,355.3 296.5,353.9 300.3,352.3 304.4,350.4 308.8,348.5 313.2,346.5 317.4,344.5 321.3,342.6 324.9,340.9 328.2,339.3 331.4,337.7 334.5,336.1 337.7,334.5 341.1,332.8 344.9,331.0 349.1,329.2 353.4,327.2 357.5,325.3 361.3,323.4 364.5,321.6 366.8,319.9 368.4,318.3 369.5,316.8 370.3,315.4 371.2,314.1 372.6,312.6 374.3,311.1 376.3,309.4 378.4,307.7 380.6,306.0 382.9,304.3 385.2,302.7 387.6,301.1 390.2,299.3 392.9,297.5 395.4,295.9 397.5,294.6 399.0,293.6" fill="#fdf6fb"/>
<polygon points="471.5,323.6 469.2,323.5 466.1,323.4 462.3,323.3 458.2,323.1 454.0,322.9 450.0,322.8 446.0,322.6 441.9,322.4 437.7,322.1 433.5,321.8 429.2,321.4 425.0,321.1 420.8,320.9 416.5,320.6 412.2,320.4 408.0,320.1 403.9,319.9 400.0,319.7 396.4,319.6 393.0,319.4 389.6,319.3 386.4,319.2 382.9,319.2 379.8,320.5 376.7,320.5 373.2,320.6 369.7,320.7 366.6,320.8 363.9,320.9 362.0,321.0 362.1,323.3 364.0,323.2 366.7,323.1 369.8,323.0 373.2,323.0 376.7,322.9 380.2,322.9 383.4,321.6 386.3,321.6 389.5,321.7 392.9,321.8 396.3,321.9 400.0,322.0 403.9,322.0 407.9,322.0 412.2,322.0 416.5,322.0 420.8,322.0 425.0,322.0 429.2,322.0 433.5,322.1 437.7,322.2 441.9,322.4 446.0,322.6 450.0,322.8 454.0,322.9 458.2,323.1 462.3,323.3 466.1,323.4 469.2,323.5 471.5,323.6" fill="#fdf6fb"/>
<polygon points="421.1,317.0 421.1,317.2 421.0,317.5 421.0,317.9 420.9,318.3 420.9,318.7 420.9,319.0 420.8,319.4 420.8,319.8 420.8,320.1 420.8,320.5 420.8,320.8 420.7,321.0 420.7,321.0 420.8,320.8 420.8,320.5 420.8,320.1 420.8,319.8 420.8,319.4 420.9,319.0 420.9,318.7 420.9,318.3 421.0,317.9 421.0,317.5 421.1,317.2 421.1,317.0" fill="#fdf6fb"/>
<polygon points="450.1,345.7 448.8,344.6 447.0,343.1 444.8,341.3 442.6,339.4 440.3,337.5 438.1,335.8 436.2,334.2 434.2,332.6 432.2,331.0 430.2,329.4 428.2,327.9 426.2,326.6 424.1,325.4 421.8,324.3 419.5,323.3 417.4,322.5 415.6,321.8 414.3,321.3 414.0,321.9 415.3,322.4 417.2,323.0 419.3,323.8 421.6,324.7 424.0,325.7 426.1,326.8 428.2,328.0 430.2,329.4 432.2,331.0 434.2,332.6 436.2,334.2 438.1,335.8 440.3,337.5 442.6,339.4 444.8,341.3 447.0,343.1 448.8,344.6 450.1,345.7" fill="#fdf6fb"/>
</g>
<g filter="url(#b3)">
<polygon points="244.2,71.0 244.6,75.3 245.2,81.4 245.9,88.6 246.6,96.2 247.3,103.5 248.1,109.9 248.8,115.2 249.5,120.0 250.2,124.6 251.0,129.2 251.7,134.1 252.5,139.8 253.3,146.4 254.0,153.7 254.8,161.4 255.6,169.0 256.4,176.2 257.2,182.7 258.0,188.5 258.9,194.0 259.7,199.1 260.6,203.8 261.3,207.9 261.9,211.5 262.3,214.4 262.5,216.6 262.7,218.3 262.8,219.6 262.9,220.6 263.0,221.6 263.3,221.5 263.2,220.6 263.2,219.5 263.2,218.2 263.1,216.5 262.9,214.3 262.5,211.4 262.0,207.8 261.2,203.6 260.4,199.0 259.5,193.9 258.6,188.4 257.8,182.6 257.0,176.2 256.1,168.9 255.3,161.3 254.5,153.7 253.6,146.3 252.8,139.8 252.0,134.1 251.2,129.1 250.3,124.5 249.6,120.0 248.8,115.2 248.1,109.9 247.3,103.5 246.6,96.2 245.9,88.6 245.2,81.4 244.6,75.3 244.2,71.0" fill="#fcf0e0"/>
<polygon points="176.1,129.9 177.6,131.4 179.5,133.4 181.8,135.9 184.4,138.7 187.3,142.0 190.4,145.6 193.9,149.9 197.9,154.8 202.1,160.0 206.4,165.4 210.7,170.7 214.8,175.6 218.9,180.2 222.9,184.8 227.0,189.3 230.9,193.6 234.6,197.6 238.0,201.4 241.1,204.9 244.0,208.1 246.7,211.2 249.2,214.0 251.4,216.5 253.3,218.8 254.9,220.8 256.2,222.6 257.2,224.1 258.0,225.4 258.6,226.4 259.2,227.2 259.5,227.0 259.0,226.2 258.4,225.2 257.6,223.9 256.6,222.3 255.3,220.5 253.7,218.4 251.8,216.1 249.5,213.6 247.1,210.9 244.3,207.9 241.4,204.7 238.2,201.2 234.8,197.5 231.1,193.4 227.1,189.2 223.0,184.7 218.9,180.2 214.8,175.6 210.7,170.7 206.4,165.4 202.1,160.0 197.9,154.8 193.9,149.9 190.4,145.6 187.3,142.0 184.4,138.7 181.8,135.9 179.5,133.4 177.6,131.4 176.1,129.9" fill="#fcf0e0"/>
<polygon points="211.2,102.5 210.9,105.0 210.5,108.4 210.0,112.5 209.5,116.9 208.9,121.2 208.4,125.2 207.8,128.9 207.2,132.7 206.5,136.5 205.9,140.0 205.3,143.3 204.8,146.2 204.5,148.7 204.3,150.9 204.1,152.9 204.0,154.6 203.9,156.0 203.8,157.1 204.0,157.1 204.1,156.0 204.2,154.6 204.4,152.9 204.6,151.0 204.8,148.7 205.1,146.3 205.5,143.4 206.1,140.1 206.6,136.5 207.2,132.7 207.8,128.9 208.4,125.2 208.9,121.2 209.5,116.9 210.0,112.5 210.5,108.4 210.9,105.0 211.2,102.5" fill="#fbe9dc"/>
<polygon points="259.6,221.8 260.0,223.4 260.6,225.5 261.2,227.9 262.0,230.6 262.8,233.3 263.6,235.8 264.5,238.2 265.5,240.5 266.5,242.9 267.7,245.3 268.8,247.9 270.1,250.7 271.5,253.8 272.9,257.2 274.5,260.7 276.0,264.2 277.6,267.6 279.1,270.7 280.6,273.7 282.1,276.7 283.6,279.6 285.1,282.3 286.4,284.7 287.5,286.6 288.5,288.1 289.3,289.2 289.9,289.9 290.5,290.5 291.0,291.0 291.4,291.5 293.0,290.2 292.7,289.7 292.3,289.1 292.0,288.5 291.5,287.7 290.9,286.6 290.1,285.1 289.1,283.2 287.8,280.8 286.3,278.2 284.8,275.4 283.2,272.4 281.7,269.4 280.2,266.4 278.6,263.0 277.0,259.5 275.4,256.1 273.9,252.7 272.5,249.7 271.2,246.8 270.0,244.2 268.9,241.8 267.8,239.5 266.8,237.2 265.8,235.0 264.7,232.6 263.5,230.1 262.4,227.5 261.3,225.2 260.4,223.2 259.8,221.8" fill="#fcf0e0"/>
<polygon points="145.1,197.4 146.8,199.2 149.1,201.6 151.8,204.4 154.7,207.5 157.6,210.7 160.4,213.7 163.0,216.6 165.6,219.7 168.2,222.7 170.8,225.8 173.3,228.8 175.6,231.5 177.7,234.2 179.8,236.7 181.7,239.2 183.5,241.5 185.2,243.6 186.7,245.5 188.0,247.1 189.3,248.5 190.4,249.8 191.3,250.8 192.1,251.7 192.7,252.4 192.8,252.3 192.2,251.6 191.4,250.8 190.5,249.7 189.4,248.5 188.1,247.0 186.7,245.4 185.2,243.5 183.6,241.4 181.8,239.1 179.8,236.7 177.8,234.1 175.6,231.5 173.3,228.8 170.8,225.8 168.2,222.7 165.6,219.7 163.0,216.6 160.4,213.7 157.6,210.7 154.7,207.5 151.8,204.4 149.1,201.6 146.8,199.2 145.1,197.4" fill="#fbe9dc"/>
<polygon points="122.5,234.4 125.6,235.1 129.9,236.1 135.0,237.2 140.4,238.4 145.6,239.6 150.1,240.7 154.0,241.6 157.7,242.6 161.1,243.5 164.4,244.4 167.4,245.2 170.1,246.1 172.5,246.8 174.6,247.5 176.4,248.2 178.0,248.9 179.6,249.7 181.2,250.6 183.0,251.7 184.8,253.0 186.5,254.4 188.1,255.7 189.4,256.8 190.3,257.6 190.5,257.4 189.5,256.6 188.2,255.5 186.6,254.2 184.9,252.9 183.1,251.5 181.3,250.4 179.7,249.6 178.1,248.8 176.4,248.1 174.6,247.4 172.5,246.8 170.2,246.0 167.4,245.2 164.4,244.4 161.1,243.5 157.7,242.6 154.0,241.6 150.1,240.7 145.6,239.6 140.4,238.4 135.0,237.2 129.9,236.1 125.6,235.1 122.5,234.4" fill="#fbe9dc"/>
<polygon points="185.3,246.8 185.7,247.2 186.2,247.7 186.8,248.4 187.5,249.2 188.1,250.0 188.8,250.8 189.3,251.5 189.9,252.1 190.4,252.8 191.0,253.5 191.8,254.4 192.6,255.4 193.6,256.5 194.6,257.7 195.8,259.0 197.1,260.5 198.7,262.4 200.7,264.7 203.2,267.5 206.2,271.0 209.5,274.7 212.9,278.6 216.0,282.3 218.8,285.7 221.1,288.5 223.1,291.1 224.9,293.6 226.7,296.1 228.6,298.8 230.8,301.8 233.3,305.3 236.0,309.1 238.9,313.1 241.7,317.1 244.4,320.8 246.8,324.2 249.0,327.0 251.0,329.7 252.9,332.0 254.6,334.2 256.2,336.3 257.7,338.2 259.0,340.0 260.2,341.7 261.3,343.2 262.2,344.6 263.0,345.9 263.7,347.0 264.4,348.1 264.9,349.1 265.3,349.9 265.7,350.7 265.9,351.3 266.2,351.9 267.4,351.6 267.4,351.1 267.5,350.4 267.5,349.5 267.5,348.3 267.2,347.0 266.8,345.6 266.1,344.1 265.4,342.7 264.5,341.2 263.4,339.5 262.2,337.8 260.8,335.9 259.3,333.9 257.6,331.8 255.8,329.7 253.8,327.4 251.7,324.9 249.5,322.1 247.0,318.9 244.3,315.2 241.4,311.3 238.5,307.3 235.7,303.5 233.2,300.0 231.1,297.1 229.2,294.4 227.5,291.8 225.7,289.2 223.7,286.5 221.4,283.5 218.5,280.2 215.2,276.5 211.7,272.7 208.3,269.0 205.2,265.7 202.5,263.0 200.4,260.8 198.6,259.1 197.2,257.7 195.9,256.5 194.7,255.5 193.6,254.5 192.6,253.5 191.7,252.8 191.0,252.2 190.4,251.6 189.7,251.1 189.1,250.5 188.3,249.8 187.6,249.1 186.8,248.4 186.2,247.7 185.7,247.2 185.3,246.8" fill="#f9dfc8"/>
<polygon points="230.6,251.0 230.6,252.6 230.6,254.9 230.6,257.5 230.7,260.4 230.7,263.3 230.8,266.0 230.9,268.6 231.0,271.3 231.1,274.1 231.1,276.8 231.2,279.4 231.3,282.0 231.5,284.6 231.8,287.3 232.1,290.0 232.4,292.4 232.6,294.5 232.8,296.0 233.6,295.9 233.5,294.4 233.2,292.3 232.9,289.9 232.6,287.2 232.3,284.5 232.0,281.9 231.8,279.4 231.5,276.7 231.3,274.0 231.0,271.3 230.9,268.6 230.8,266.0 230.7,263.3 230.7,260.4 230.6,257.5 230.6,254.9 230.6,252.6 230.6,251.0" fill="#fbe9dc"/>
<polygon points="312.1,126.9 314.6,129.3 318.1,132.6 322.2,136.5 326.7,140.7 331.1,144.9 335.3,148.7 339.3,152.2 343.4,155.8 347.6,159.3 351.6,162.8 355.2,166.3 358.3,169.7 360.8,173.2 362.8,176.7 364.4,180.1 365.8,183.5 367.1,186.8 368.4,189.8 369.7,192.9 370.9,196.1 372.0,199.1 373.0,201.9 373.8,204.2 374.4,205.9 375.6,205.4 375.0,203.8 374.1,201.5 373.1,198.7 372.0,195.7 370.7,192.5 369.4,189.4 368.1,186.4 366.7,183.1 365.2,179.8 363.5,176.3 361.4,172.8 358.8,169.4 355.6,165.9 351.8,162.5 347.8,159.1 343.5,155.7 339.3,152.2 335.3,148.7 331.1,144.9 326.7,140.7 322.2,136.5 318.1,132.6 314.6,129.3 312.1,126.9" fill="#fbe9dc"/>
<polygon points="360.9,114.0 360.9,116.8 360.8,120.8 360.8,125.4 360.8,130.4 360.7,135.4 360.8,140.0 360.9,144.4 361.0,149.0 361.1,153.5 361.2,157.8 361.3,161.7 361.4,165.0 361.5,167.6 361.7,169.8 361.9,171.5 362.1,172.9 362.3,174.0 362.4,175.0 362.7,174.9 362.6,174.0 362.5,172.9 362.3,171.5 362.1,169.7 361.9,167.6 361.7,165.0 361.5,161.7 361.3,157.8 361.1,153.5 361.0,149.0 360.9,144.4 360.8,140.0 360.7,135.4 360.8,130.4 360.8,125.4 360.8,120.8 360.9,116.8 360.9,114.0" fill="#fbe9dc"/>
<polygon points="406.1,96.0 406.2,98.7 406.3,102.4 406.4,106.7 406.5,111.4 406.7,115.9 406.8,120.0 407.0,123.6 407.2,127.2 407.3,130.7 407.4,134.1 407.4,137.2 407.3,140.0 407.1,142.6 406.7,145.1 406.3,147.3 405.8,149.3 405.4,150.8 405.2,152.1 406.7,152.3 406.9,151.1 407.1,149.5 407.4,147.5 407.7,145.2 407.9,142.7 407.9,140.0 407.9,137.2 407.7,134.1 407.4,130.7 407.2,127.2 407.0,123.6 406.8,120.0 406.7,115.9 406.5,111.4 406.4,106.7 406.3,102.4 406.2,98.7 406.1,96.0" fill="#fbe9dc"/>
<polygon points="407.9,147.2 406.4,149.8 404.5,153.2 402.2,157.4 399.7,162.0 397.0,166.8 394.2,171.6 391.4,176.6 388.4,181.9 385.3,187.5 382.0,193.1 378.6,198.7 375.2,204.1 371.5,209.5 367.7,215.0 363.7,220.4 359.7,225.6 356.0,230.4 352.6,234.6 349.6,238.1 346.9,241.0 344.5,243.4 342.1,245.7 339.6,248.1 337.1,250.6 334.5,253.4 331.7,256.3 329.0,259.3 326.3,262.2 323.7,265.0 321.2,267.6 318.8,270.1 316.5,272.5 314.2,274.8 312.1,277.0 310.1,279.1 308.2,281.2 306.4,283.1 304.8,284.9 303.3,286.7 301.9,288.4 300.6,290.2 299.2,292.1 298.0,294.2 296.8,296.2 295.6,298.4 294.5,300.6 293.4,302.8 292.4,305.2 291.3,307.5 290.3,310.0 289.3,312.5 288.4,315.0 287.4,317.6 286.4,320.2 285.4,323.0 284.2,326.0 283.0,329.1 281.9,332.0 281.0,334.4 280.3,336.1 280.3,336.1 281.0,334.4 281.9,332.0 283.0,329.1 284.2,326.0 285.4,323.0 286.6,320.2 287.6,317.7 288.7,315.1 289.8,312.6 290.8,310.2 292.0,307.8 293.1,305.5 294.3,303.3 295.5,301.1 296.8,299.1 298.1,297.0 299.4,295.1 300.7,293.2 302.1,291.3 303.4,289.6 304.8,288.0 306.3,286.2 307.9,284.5 309.7,282.5 311.6,280.5 313.6,278.4 315.8,276.3 318.0,274.0 320.4,271.7 322.8,269.2 325.3,266.6 328.0,263.8 330.8,261.0 333.6,258.1 336.3,255.2 339.0,252.5 341.5,250.0 343.9,247.7 346.4,245.4 348.9,242.9 351.7,239.9 354.7,236.3 358.1,232.0 361.8,227.2 365.7,221.9 369.6,216.4 373.5,210.8 377.0,205.3 380.5,199.9 383.8,194.2 387.0,188.5 390.1,182.9 393.0,177.5 395.7,172.5 398.3,167.6 400.9,162.6 403.2,157.9 405.3,153.7 407.1,150.1 408.4,147.5" fill="#fbeee6"/>
<polygon points="495.0,124.1 492.4,124.8 488.7,125.7 484.4,126.8 479.7,128.1 474.8,129.4 470.1,130.8 465.3,132.2 460.1,133.8 454.8,135.5 449.6,137.1 444.6,138.6 440.1,139.9 436.1,141.0 432.4,142.0 429.0,142.9 425.8,143.7 422.9,144.5 420.1,145.2 417.5,146.0 415.1,146.9 412.9,147.7 411.0,148.4 409.4,149.0 408.2,149.4 408.3,149.8 409.5,149.3 411.1,148.7 413.0,148.0 415.2,147.2 417.7,146.4 420.2,145.6 423.0,144.8 425.9,144.0 429.1,143.2 432.5,142.3 436.2,141.3 440.2,140.1 444.7,138.8 449.6,137.2 454.8,135.5 460.1,133.8 465.3,132.2 470.1,130.8 474.8,129.4 479.7,128.1 484.4,126.8 488.7,125.7 492.4,124.8 495.0,124.1" fill="#fbe9dc"/>
<polygon points="452.0,197.4 449.0,197.2 444.9,197.0 440.1,196.7 434.9,196.4 429.7,196.1 425.0,195.8 420.7,195.4 416.4,195.0 412.1,194.6 407.9,194.2 403.9,193.9 400.0,193.6 396.2,193.4 392.2,193.3 388.4,194.3 385.0,194.4 382.1,194.5 380.0,194.5 380.0,194.8 382.1,194.7 385.0,194.6 388.5,194.5 392.2,193.4 396.2,193.4 400.0,193.6 403.9,193.9 407.9,194.2 412.1,194.6 416.4,195.0 420.7,195.4 425.0,195.8 429.7,196.1 434.9,196.4 440.1,196.7 444.9,197.0 449.0,197.2 452.0,197.4" fill="#fbe9dc"/>
<polygon points="399.0,293.6 397.5,294.6 395.4,295.9 392.9,297.5 390.2,299.3 387.6,301.1 385.2,302.7 382.9,304.3 380.6,306.0 378.4,307.6 376.2,309.2 374.1,310.8 372.3,312.3 370.8,313.7 369.7,314.9 368.7,316.2 367.5,317.5 365.9,318.8 363.6,320.2 360.5,321.8 356.7,323.5 352.5,325.3 348.2,327.0 343.9,328.8 340.1,330.4 336.6,332.0 333.3,333.5 330.1,335.0 326.9,336.5 323.6,338.1 320.0,339.7 316.0,341.4 311.7,343.2 307.3,345.0 302.9,346.8 298.7,348.5 295.0,349.9 291.6,351.2 288.4,352.3 285.4,353.3 282.7,354.2 280.2,355.1 278.0,355.9 276.1,356.7 274.4,357.5 273.0,358.2 271.9,358.8 270.9,359.3 270.1,359.7 270.5,360.6 271.3,360.4 272.4,360.1 273.6,359.8 275.2,359.4 276.9,358.9 278.9,358.3 281.1,357.6 283.5,356.8 286.3,355.9 289.3,354.8 292.5,353.7 295.9,352.3 299.7,350.8 303.8,349.0 308.2,347.1 312.6,345.1 316.8,343.2 320.8,341.4 324.4,339.7 327.7,338.1 330.9,336.6 334.0,335.0 337.2,333.4 340.7,331.8 344.5,330.0 348.7,328.2 353.0,326.3 357.2,324.5 360.9,322.7 364.0,320.9 366.3,319.3 367.9,317.8 369.0,316.4 369.9,315.1 370.9,313.8 372.3,312.3 374.1,310.8 376.2,309.2 378.4,307.6 380.6,306.0 382.9,304.3 385.2,302.7 387.6,301.1 390.2,299.3 392.9,297.5 395.4,295.9 397.5,294.6 399.0,293.6" fill="#f9dfca"/>
<polygon points="471.5,323.6 469.2,323.5 466.1,323.4 462.3,323.3 458.2,323.1 454.0,322.9 450.0,322.8 446.0,322.6 441.9,322.4 437.7,322.2 433.5,321.9 429.2,321.7 425.0,321.6 420.8,321.3 416.5,321.1 412.2,320.9 408.0,320.7 403.9,320.6 400.0,320.4 396.4,320.3 392.9,320.2 389.6,320.0 386.4,319.9 383.1,319.9 379.9,321.2 376.7,321.2 373.2,321.3 369.8,321.4 366.6,321.5 363.9,321.6 362.0,321.7 362.0,322.6 364.0,322.5 366.6,322.4 369.8,322.3 373.2,322.2 376.7,322.2 380.1,322.1 383.3,320.8 386.3,320.9 389.6,321.0 392.9,321.1 396.4,321.2 400.0,321.3 403.9,321.3 408.0,321.4 412.2,321.4 416.5,321.4 420.8,321.5 425.0,321.6 429.2,321.7 433.5,321.9 437.7,322.2 441.9,322.4 446.0,322.6 450.0,322.8 454.0,322.9 458.2,323.1 462.3,323.3 466.1,323.4 469.2,323.5 471.5,323.6" fill="#fbe9dc"/>
<polygon points="421.1,317.0 421.1,317.2 421.0,317.5 421.0,317.9 420.9,318.3 420.9,318.7 420.9,319.0 420.8,319.4 420.8,319.8 420.8,320.1 420.8,320.5 420.8,320.8 420.7,321.0 420.7,321.0 420.8,320.8 420.8,320.5 420.8,320.1 420.8,319.8 420.8,319.4 420.9,319.0 420.9,318.7 420.9,318.3 421.0,317.9 421.0,317.5 421.1,317.2 421.1,317.0" fill="#fbe9dc"/>
<polygon points="450.1,345.7 448.8,344.6 447.0,343.1 444.8,341.3 442.6,339.4 440.3,337.5 438.1,335.8 436.2,334.2 434.2,332.6 432.2,331.0 430.2,329.4 428.2,328.0 426.2,326.7 424.0,325.5 421.7,324.5 419.4,323.6 417.3,322.8 415.5,322.1 414.2,321.6 414.2,321.6 415.5,322.1 417.3,322.8 419.4,323.6 421.7,324.5 424.0,325.5 426.2,326.7 428.2,328.0 430.2,329.4 432.2,331.0 434.2,332.6 436.2,334.2 438.1,335.8 440.3,337.5 442.6,339.4 444.8,341.3 447.0,343.1 448.8,344.6 450.1,345.7" fill="#fbe9dc"/>
</g>
<polygon points="287.5,281.0 303.0,269.5 304.8,279.0 299.0,284.5 290.0,289.0" fill="#fff" filter="url(#b1)"/>
<polygon points="298.1,280.3 297.6,280.6 296.9,280.9 296.0,281.3 294.8,282.1 293.7,283.1 292.5,284.3 291.5,285.7 290.6,287.2 289.7,288.8 288.7,290.6 287.7,292.6 286.7,294.9 285.6,297.5 284.5,300.3 283.4,303.3 282.2,306.5 280.9,309.9 279.3,313.6 277.4,317.3 275.2,321.3 272.8,325.6 270.2,330.5 267.4,336.2 264.7,342.8 261.9,350.6 259.1,359.4 256.1,368.9 253.2,378.5 250.4,387.8 247.7,396.2 245.1,403.9 242.5,411.4 239.9,418.6 237.5,425.4 235.2,431.9 233.2,438.0 231.4,443.7 229.8,449.0 228.4,453.9 227.2,458.3 226.1,462.3 225.1,465.9 224.2,468.8 223.4,471.2 222.8,473.3 222.1,475.3 221.5,477.5 220.8,480.0 220.2,482.6 219.7,485.2 219.2,487.8 218.7,490.4 218.2,493.0 217.7,495.6 217.2,498.1 216.7,500.6 216.1,503.0 215.6,505.6 215.0,508.2 214.4,511.0 213.8,513.9 213.1,517.0 212.5,520.2 211.8,523.4 211.2,526.5 210.6,529.3 210.0,532.0 209.5,534.6 208.9,537.0 208.4,539.3 208.0,541.5 207.6,543.6 207.2,545.5 206.9,547.4 206.6,549.1 206.4,550.7 206.3,551.9 206.1,552.9 206.9,553.1 207.3,552.2 207.8,551.0 208.4,549.6 209.0,548.0 209.7,546.2 210.4,544.4 211.2,542.5 211.9,540.4 212.8,538.1 213.6,535.7 214.5,533.3 215.4,530.7 216.4,527.9 217.4,525.0 218.5,521.9 219.5,518.8 220.6,515.8 221.6,513.0 222.6,510.4 223.5,508.0 224.5,505.6 225.4,503.2 226.3,500.9 227.3,498.4 228.3,496.0 229.3,493.5 230.3,491.1 231.3,488.7 232.2,486.3 233.2,484.0 234.1,482.0 234.9,480.2 235.8,478.3 236.8,476.1 237.8,473.4 238.9,470.1 240.1,466.3 241.2,462.1 242.4,457.6 243.7,452.8 245.0,447.6 246.6,442.0 248.3,436.0 250.2,429.5 252.2,422.6 254.4,415.3 256.7,407.7 259.1,399.8 261.8,391.3 264.6,382.0 267.6,372.5 270.6,363.2 273.5,354.5 276.1,347.2 278.6,341.1 280.9,335.8 283.3,331.1 285.6,326.8 287.7,322.6 289.7,318.4 291.5,314.4 293.0,310.7 294.3,307.4 295.4,304.4 296.4,301.6 297.3,299.1 298.1,296.8 298.8,294.7 299.3,292.9 299.8,291.3 300.1,289.9 300.5,288.7 300.7,287.6 300.9,286.7 301.1,285.8 301.4,285.0 301.6,284.3 301.9,283.7" fill="#fff" filter="url(#b1)"/>
<polygon points="299.0,282.6 298.5,282.8 297.9,283.0 297.0,283.3 296.1,283.7 295.0,284.4 294.0,285.3 293.1,286.3 292.3,287.3 291.4,288.5 290.5,290.0 289.6,291.8 288.6,294.1 287.5,296.8 286.5,300.0 285.4,303.4 284.2,307.1 282.9,310.9 281.3,314.9 279.6,318.9 277.6,322.9 275.4,327.2 273.1,332.0 270.6,337.5 268.0,343.9 265.2,351.6 262.1,360.3 259.0,369.7 255.8,379.2 252.7,388.4 249.9,396.9 247.2,404.6 244.6,412.1 242.1,419.3 239.7,426.1 237.5,432.6 235.5,438.6 233.7,444.3 232.1,449.6 230.7,454.5 229.4,458.9 228.3,462.9 227.2,466.5 226.3,469.6 225.6,472.0 224.9,474.1 224.3,476.2 223.7,478.3 223.1,480.7 222.5,483.3 222.0,486.0 221.5,488.6 221.1,491.3 220.7,493.8 220.2,496.3 219.7,498.7 219.3,501.0 218.8,503.3 218.4,505.5 217.9,507.6 217.5,509.7 217.0,511.8 216.4,514.0 215.9,516.1 215.4,518.1 215.0,519.7 214.7,520.9 215.3,521.1 215.7,519.9 216.4,518.4 217.1,516.5 217.9,514.5 218.7,512.4 219.5,510.3 220.4,508.4 221.2,506.3 222.1,504.2 222.9,502.1 223.9,499.9 224.8,497.7 225.8,495.4 226.8,492.9 227.8,490.5 228.9,488.0 229.9,485.6 230.9,483.3 231.8,481.2 232.7,479.4 233.7,477.5 234.6,475.3 235.7,472.7 236.8,469.5 237.9,465.7 239.0,461.5 240.2,457.0 241.4,452.2 242.8,447.0 244.3,441.4 246.1,435.3 248.0,428.8 250.0,421.9 252.2,414.6 254.5,407.0 256.9,399.1 259.5,390.6 262.3,381.3 265.3,371.7 268.2,362.3 271.0,353.6 273.6,346.1 276.0,339.8 278.4,334.5 280.7,329.8 282.8,325.5 284.9,321.3 286.7,317.1 288.3,312.9 289.6,308.8 290.7,305.0 291.7,301.6 292.6,298.5 293.4,295.9 294.2,293.8 294.9,292.1 295.4,290.7 296.0,289.6 296.5,288.6 297.0,287.7 297.5,286.9 298.0,286.2 298.5,285.7 299.1,285.2 299.6,284.7 300.0,284.4" fill="url(#og)" filter="url(#b2)"/>
<polygon points="266.2,342.9 265.9,343.3 265.5,343.9 265.0,344.6 264.4,345.6 263.7,346.9 263.0,348.7 262.1,351.0 261.2,353.8 260.2,356.9 259.2,360.2 258.2,363.6 257.3,366.8 256.4,370.0 255.4,373.4 254.5,376.9 253.6,380.2 252.8,383.3 252.1,385.9 251.5,388.1 251.0,390.0 250.7,391.6 250.4,393.0 250.1,394.1 249.9,395.0 250.1,395.0 250.4,394.2 250.7,393.1 251.2,391.8 251.7,390.2 252.3,388.3 252.9,386.1 253.7,383.5 254.6,380.5 255.6,377.2 256.7,373.8 257.7,370.4 258.7,367.2 259.7,364.0 260.8,360.7 261.9,357.5 263.0,354.4 263.9,351.6 264.6,349.3 265.2,347.5 265.7,346.2 266.1,345.1 266.3,344.3 266.6,343.7 266.8,343.1" fill="#f9dcc0" filter="url(#b2)"/>
<g filter="url(#b2)">
<path d="M0,0 C5.7,-4.5 12.1,-5.9 20.2,0 C12.1,5.9 5.7,4.5 0,0Z" fill="#2fd64a" transform="translate(244.0,71.0) rotate(-147.1)"/>
<path d="M0,0 C6.3,-4.5 13.6,-5.9 22.6,0 C13.6,5.9 6.3,4.5 0,0Z" fill="#2fd64a" transform="translate(244.0,71.0) rotate(-45.0)"/>
<path d="M0,0 C6.4,-4.5 13.7,-5.9 22.8,0 C13.7,5.9 6.4,4.5 0,0Z" fill="#2fd64a" transform="translate(176.0,130.0) rotate(-164.7)"/>
<path d="M0,0 C3.9,-3.0 8.4,-4.0 14.0,0 C8.4,4.0 3.9,3.0 0,0Z" fill="#2fd64a" transform="translate(176.0,130.0) rotate(-90.0)"/>
<path d="M0,0 C6.2,-4.5 13.2,-5.9 22.0,0 C13.2,5.9 6.2,4.5 0,0Z" fill="#2fd64a" transform="translate(211.0,102.5) rotate(-138.7)"/>
<path d="M0,0 C5.9,-4.5 12.7,-5.9 21.1,0 C12.7,5.9 5.9,4.5 0,0Z" fill="#2fd64a" transform="translate(145.0,197.5) rotate(-143.7)"/>
<path d="M0,0 C6.1,-4.5 13.2,-5.9 21.9,0 C13.2,5.9 6.1,4.5 0,0Z" fill="#2fd64a" transform="translate(145.0,197.5) rotate(-65.8)"/>
<path d="M0,0 C5.6,-4.5 11.9,-5.9 19.9,0 C11.9,5.9 5.6,4.5 0,0Z" fill="#2fd64a" transform="translate(122.5,234.5) rotate(-141.1)"/>
<path d="M0,0 C6.3,-4.5 13.5,-5.9 22.5,0 C13.5,5.9 6.3,4.5 0,0Z" fill="#2fd64a" transform="translate(122.5,234.5) rotate(176.2)"/>
<path d="M0,0 C5.7,-4.5 12.2,-5.9 20.4,0 C12.2,5.9 5.7,4.5 0,0Z" fill="#2fd64a" transform="translate(230.3,252.5) rotate(-145.6)"/>
<path d="M0,0 C5.9,-4.5 12.7,-5.9 21.2,0 C12.7,5.9 5.9,4.5 0,0Z" fill="#2fd64a" transform="translate(312.5,127.0) rotate(-81.9)"/>
<path d="M0,0 C6.1,-4.5 13.0,-5.9 21.6,0 C13.0,5.9 6.1,4.5 0,0Z" fill="#2fd64a" transform="translate(360.8,114.0) rotate(-147.9)"/>
<path d="M0,0 C4.1,-4.0 8.9,-5.3 14.8,0 C8.9,5.3 4.1,4.0 0,0Z" fill="#2fd64a" transform="translate(360.8,114.0) rotate(-37.6)"/>
<path d="M0,0 C5.8,-4.5 12.5,-5.9 20.8,0 C12.5,5.9 5.8,4.5 0,0Z" fill="#2fd64a" transform="translate(406.0,96.0) rotate(-144.8)"/>
<path d="M0,0 C6.0,-4.5 12.8,-5.9 21.3,0 C12.8,5.9 6.0,4.5 0,0Z" fill="#2fd64a" transform="translate(406.0,96.0) rotate(-41.2)"/>
<path d="M0,0 C4.4,-2.8 9.3,-3.6 15.6,0 C9.3,3.6 4.4,2.8 0,0Z" fill="#2fd64a" transform="translate(495.0,124.0) rotate(-42.4)"/>
<path d="M0,0 C5.1,-3.0 11.0,-4.0 18.4,0 C11.0,4.0 5.1,3.0 0,0Z" fill="#2fd64a" transform="translate(495.0,125.0) rotate(45.0)"/>
<path d="M0,0 C4.5,-3.0 9.6,-4.0 16.0,0 C9.6,4.0 4.5,3.0 0,0Z" fill="#2fd64a" transform="translate(452.0,197.5) rotate(-20.1)"/>
<path d="M0,0 C5.0,-3.5 10.7,-4.6 17.8,0 C10.7,4.6 5.0,3.5 0,0Z" fill="#2fd64a" transform="translate(452.0,198.0) rotate(51.8)"/>
<path d="M0,0 C5.4,-4.0 11.6,-5.3 19.4,0 C11.6,5.3 5.4,4.0 0,0Z" fill="#2fd64a" transform="translate(399.5,293.0) rotate(-55.5)"/>
<path d="M0,0 C5.7,-4.0 12.2,-5.3 20.4,0 C12.2,5.3 5.7,4.0 0,0Z" fill="#2fd64a" transform="translate(420.8,317.8) rotate(-60.7)"/>
<path d="M0,0 C5.7,-4.5 12.3,-5.9 20.5,0 C12.3,5.9 5.7,4.5 0,0Z" fill="#2fd64a" transform="translate(471.0,323.3) rotate(-50.6)"/>
<path d="M0,0 C6.4,-4.0 13.7,-5.3 22.9,0 C13.7,5.3 6.4,4.0 0,0Z" fill="#2fd64a" transform="translate(471.5,324.0) rotate(31.6)"/>
<path d="M0,0 C6.7,-4.2 14.3,-5.6 23.8,0 C14.3,5.6 6.7,4.2 0,0Z" fill="#2fd64a" transform="translate(450.0,345.2) rotate(-37.2)"/>
<path d="M0,0 C5.3,-4.0 11.4,-5.3 19.1,0 C11.4,5.3 5.3,4.0 0,0Z" fill="#2fd64a" transform="translate(451.0,345.3) rotate(24.8)"/>
<path d="M0,0 C5.5,-4.2 11.8,-5.6 19.7,0 C11.8,5.6 5.5,4.2 0,0Z" fill="#2fd64a" transform="translate(449.3,346.5) rotate(97.6)"/>
</g>
<g transform="translate(123.0,268.8) rotate(-3.0) scale(1.00,1.05)"><path d="M-0.5,-8.5 C-2,-12 -7,-14 -10,-12 C-14,-9.5 -14.5,-1 -13.5,4 C-12.5,9 -10,14 -6,15 C-4,15.5 -2.5,14.7 -1.5,13.6 C-0.5,14.7 1.5,16 4,15.5 C9,14.5 13,8 14,1 C14.6,-4 13.5,-9 10,-11.2 C6,-13.2 2,-11.5 -0.5,-8.5Z" fill="#5915b6"/><path d="M5.2,-10.8 C9,-9.5 10.6,-4 9.8,2.6 C9.2,3.6 7.8,3.2 7.5,2 C8,-3 7.2,-8 5.2,-10.8Z" fill="#fff" stroke="#fff" stroke-width="0.3" stroke-linejoin="round"/></g>
<g transform="translate(226.0,159.0) rotate(-12.0) scale(-1.00,1.00)"><path d="M-0.5,-8.5 C-2,-12 -7,-14 -10,-12 C-14,-9.5 -14.5,-1 -13.5,4 C-12.5,9 -10,14 -6,15 C-4,15.5 -2.5,14.7 -1.5,13.6 C-0.5,14.7 1.5,16 4,15.5 C9,14.5 13,8 14,1 C14.6,-4 13.5,-9 10,-11.2 C6,-13.2 2,-11.5 -0.5,-8.5Z" fill="#5915b6"/><path d="M5.2,-10.8 C9,-9.5 10.6,-4 9.8,2.6 C9.2,3.6 7.8,3.2 7.5,2 C8,-3 7.2,-8 5.2,-10.8Z" fill="#fff" stroke="#fff" stroke-width="0.3" stroke-linejoin="round"/></g>
<g transform="translate(312.5,171.0) rotate(5.0) scale(1.00,1.00)"><path d="M-0.5,-8.5 C-2,-12 -7,-14 -10,-12 C-14,-9.5 -14.5,-1 -13.5,4 C-12.5,9 -10,14 -6,15 C-4,15.5 -2.5,14.7 -1.5,13.6 C-0.5,14.7 1.5,16 4,15.5 C9,14.5 13,8 14,1 C14.6,-4 13.5,-9 10,-11.2 C6,-13.2 2,-11.5 -0.5,-8.5Z" fill="#5915b6"/><path d="M5.2,-10.8 C9,-9.5 10.6,-4 9.8,2.6 C9.2,3.6 7.8,3.2 7.5,2 C8,-3 7.2,-8 5.2,-10.8Z" fill="#fff" stroke="#fff" stroke-width="0.3" stroke-linejoin="round"/></g>
<g transform="translate(405.5,352.5) rotate(3.0) scale(0.84,0.74)"><path d="M-0.5,-8.5 C-2,-12 -7,-14 -10,-12 C-14,-9.5 -14.5,-1 -13.5,4 C-12.5,9 -10,14 -6,15 C-4,15.5 -2.5,14.7 -1.5,13.6 C-0.5,14.7 1.5,16 4,15.5 C9,14.5 13,8 14,1 C14.6,-4 13.5,-9 10,-11.2 C6,-13.2 2,-11.5 -0.5,-8.5Z" fill="#5915b6"/><path d="M5.2,-10.8 C9,-9.5 10.6,-4 9.8,2.6 C9.2,3.6 7.8,3.2 7.5,2 C8,-3 7.2,-8 5.2,-10.8Z" fill="#fff" stroke="#fff" stroke-width="0.3" stroke-linejoin="round"/></g>
<path d="M123.5,259 C122,249 128,243 130.5,237.5" stroke="#5915b6" stroke-width="1.1" fill="none" stroke-linecap="round"/>
<path d="M221,148 C220,140 215,135 211,131" stroke="#5915b6" stroke-width="1.1" fill="none" stroke-linecap="round"/>
<path d="M312.5,159 C312,150 316,144 317.5,139" stroke="#5915b6" stroke-width="1.1" fill="none" stroke-linecap="round"/>
<path d="M406.5,345 C406.5,339 408.5,333 409,327.5" stroke="#5915b6" stroke-width="1.0" fill="none" stroke-linecap="round"/>
<path d="M0,0 C4.0,-2.5 8.7,-3.3 14.4,0 C8.7,3.3 4.0,2.5 0,0Z" fill="#5915b6" transform="translate(125.0,257.0) rotate(-33.7)"/>
<path d="M0,0 C3.1,-2.0 6.7,-2.6 11.2,0 C6.7,2.6 3.1,2.0 0,0Z" fill="#5915b6" transform="translate(221.0,148.0) rotate(-153.4)"/>
<path d="M0,0 C4.5,-2.5 9.7,-3.3 16.1,0 C9.7,3.3 4.5,2.5 0,0Z" fill="#5915b6" transform="translate(313.0,158.0) rotate(-29.7)"/>
<path d="M0,0 C2.9,-1.8 6.3,-2.4 10.5,0 C6.3,2.4 2.9,1.8 0,0Z" fill="#5915b6" transform="translate(408.0,339.5) rotate(-25.3)"/>
<text transform="translate(148.5,67.0) rotate(-24.0)" font-family="'Liberation Sans',sans-serif" font-weight="bold" font-size="17.3" fill="#000" text-anchor="start"  stroke="#000" stroke-width="0.45" stroke-linejoin="round">Luminescence</text>
<text transform="translate(179.5,77.5) rotate(-24.5)" font-family="'Liberation Sans',sans-serif" font-weight="bold" font-size="17.3" fill="#000" text-anchor="start"  stroke="#000" stroke-width="0.45" stroke-linejoin="round">Enhance</text>
<text transform="translate(94.5,148.5) rotate(-27.6)" font-family="'Liberation Sans',sans-serif" font-weight="bold" font-size="17.3" fill="#000" text-anchor="start"  stroke="#000" stroke-width="0.45" stroke-linejoin="round">Metasurface</text>
<text transform="translate(44.0,228.5) rotate(-30.0)" font-family="'Liberation Sans',sans-serif" font-weight="bold" font-size="17.3" fill="#000" text-anchor="start"  stroke="#000" stroke-width="0.45" stroke-linejoin="round">Quantum</text>
<text transform="translate(46.0,251.5) rotate(-30.0)" font-family="'Liberation Sans',sans-serif" font-weight="bold" font-size="17.3" fill="#000" text-anchor="start"  stroke="#000" stroke-width="0.45" stroke-linejoin="round">Information</text>
<text transform="translate(324.5,57.5) rotate(-18.0)" font-family="'Liberation Sans',sans-serif" font-weight="bold" font-size="17.3" fill="#000" text-anchor="middle"  stroke="#000" stroke-width="0.45" stroke-linejoin="round">Super</text>
<text transform="translate(329.0,76.5) rotate(-18.0)" font-family="'Liberation Sans',sans-serif" font-weight="bold" font-size="17.2" fill="#000" text-anchor="middle"  stroke="#000" stroke-width="0.45" stroke-linejoin="round">Resolution</text>
<text transform="translate(336.0,95.5) rotate(-18.0)" font-family="'Liberation Sans',sans-serif" font-weight="bold" font-size="17.3" fill="#000" text-anchor="middle"  stroke="#000" stroke-width="0.45" stroke-linejoin="round">Microscopy</text>
<text transform="translate(432.0,106.0) rotate(-16.0)" font-family="'Liberation Sans',sans-serif" font-weight="bold" font-size="17.4" fill="#000" text-anchor="start"  stroke="#000" stroke-width="0.45" stroke-linejoin="round">Surface-Enhanced</text>
<text transform="translate(441.0,124.0) rotate(-15.8)" font-family="'Liberation Sans',sans-serif" font-weight="bold" font-size="17.3" fill="#000" text-anchor="start"  stroke="#000" stroke-width="0.45" stroke-linejoin="round">Raman Scattering</text>
<text transform="translate(520.0,153.7) rotate(-12.0)" font-family="'Liberation Sans',sans-serif" font-weight="bold" font-size="17.1" fill="#000" text-anchor="middle"  stroke="#000" stroke-width="0.45" stroke-linejoin="round">Single</text>
<text transform="translate(524.5,172.5) rotate(-12.0)" font-family="'Liberation Sans',sans-serif" font-weight="bold" font-size="17.0" fill="#000" text-anchor="middle"  stroke="#000" stroke-width="0.45" stroke-linejoin="round">Molecular</text>
<text transform="translate(529.0,190.5) rotate(-12.0)" font-family="'Liberation Sans',sans-serif" font-weight="bold" font-size="17.0" fill="#000" text-anchor="middle"  stroke="#000" stroke-width="0.45" stroke-linejoin="round">Device</text>
<text transform="translate(448.0,231.0) rotate(-12.5)" font-family="'Liberation Sans',sans-serif" font-weight="bold" font-size="17.3" fill="#000" text-anchor="start"  stroke="#000" stroke-width="0.45" stroke-linejoin="round">Ultrafast</text>
<text transform="translate(449.5,252.0) rotate(-12.5)" font-family="'Liberation Sans',sans-serif" font-weight="bold" font-size="17.1" fill="#000" text-anchor="start"  stroke="#000" stroke-width="0.45" stroke-linejoin="round">Emission</text>
<text transform="translate(456.5,304.2) rotate(0.0)" font-family="'Liberation Sans',sans-serif" font-weight="bold" font-size="17.3" fill="#000" text-anchor="start"  stroke="#000" stroke-width="0.45" stroke-linejoin="round">CMOS</text>
<text transform="translate(290.5,389.0) rotate(-22.7)" font-family="'Liberation Sans',sans-serif" font-weight="bold" font-size="24.0" fill="#000" text-anchor="start"  stroke="#000" stroke-width="0.50" stroke-linejoin="round">Integrated</text>
<text transform="translate(321.5,402.5) rotate(-22.5)" font-family="'Liberation Sans',sans-serif" font-weight="bold" font-size="24.0" fill="#000" text-anchor="start"  stroke="#000" stroke-width="0.50" stroke-linejoin="round">Circuit</text>
<text transform="translate(311.0,324.5) rotate(-52.0)" font-family="'Liberation Sans',sans-serif" font-weight="bold" font-size="23.6" fill="#000" text-anchor="start"  stroke="#000" stroke-width="0.50" stroke-linejoin="round">Nanogap Electrode</text>
<text transform="translate(206.5,199.0) rotate(57.8)" font-family="'Liberation Sans',sans-serif" font-weight="bold" font-size="23.5" fill="#000" text-anchor="start"  stroke="#000" stroke-width="0.50" stroke-linejoin="round">Plasmon</text>
<text transform="translate(157.0,266.0) rotate(50.0)" font-family="'Liberation Sans',sans-serif" font-weight="bold" font-size="23.6" fill="#000" text-anchor="start"  stroke="#000" stroke-width="0.50" stroke-linejoin="round">Nanolaser</text>
<text transform="translate(219.0,461.0) rotate(-70.3)" font-family="'Liberation Sans',sans-serif" font-weight="bold" font-size="19.5" fill="#fff" text-anchor="start"  stroke="#fff" stroke-width="0.45" stroke-linejoin="round">Sub-10 nm</text>
<text transform="translate(245.0,493.5) rotate(-72.0)" font-family="'Liberation Sans',sans-serif" font-weight="bold" font-size="17.9" fill="#fff" text-anchor="start"  stroke="#fff" stroke-width="0.45" stroke-linejoin="round">nanofabrication</text>
</svg>
</body></html>
